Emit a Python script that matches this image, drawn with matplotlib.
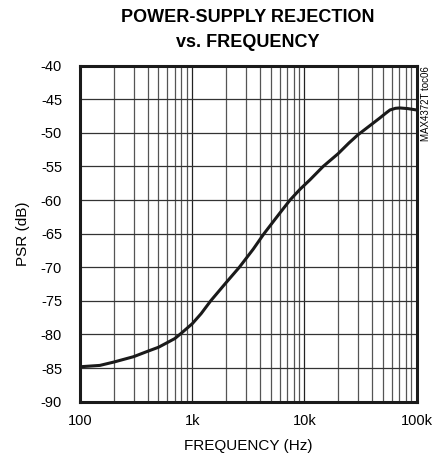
import numpy as np
import matplotlib
matplotlib.use("Agg")
import matplotlib.pyplot as plt
from matplotlib.ticker import FixedLocator, NullFormatter

plt.rcParams['font.family'] = ['Liberation Sans', 'DejaVu Sans']
plt.rcParams['axes.unicode_minus'] = False

# PSR curve (Hz, dB)
freq_hz = [100, 150, 200, 300, 400, 500, 600, 700, 800, 1000, 1200, 1460,
           2000, 2630, 3500, 4365, 6000, 7445, 9140, 11200, 14700, 20000,
           25000, 30000, 40000, 47000, 53000, 58000, 65000, 71000, 84000,
           100000]
psr_db = [-84.8, -84.6, -84.1, -83.3, -82.5, -81.9, -81.2, -80.6, -79.8, -78.4,
          -76.9, -75.0, -72.3, -70.0, -67.3, -65.0, -62.0, -60.0, -58.4, -57.0,
          -55.0, -53.1, -51.5, -50.3, -48.7, -47.8, -47.1, -46.6, -46.35, -46.3,
          -46.4, -46.6]

x_ticks = [100, 1000, 10000, 100000]
x_labels = ["100", "1k", "10k", "100k"]
y_ticks = list(range(-90, -39, 5))

fig = plt.figure(figsize=(4.45, 4.62), dpi=100)
ax = fig.add_axes([0.180, 0.1305, 0.756, 0.7275])

minor = [m * 10 ** d for d in range(2, 5) for m in range(2, 10)]
for f in minor:
    ax.axvline(f, color='#555555', lw=0.9, zorder=1)
for f in x_ticks[1:-1]:
    ax.axvline(f, color='#222222', lw=0.9, zorder=1)
for y in y_ticks[1:-1]:
    ax.axhline(y, color='#333333', lw=0.9, zorder=1)

ax.plot(freq_hz, psr_db, color='#1a1a1a', lw=2.2, zorder=3,
        solid_joinstyle='round')

ax.set_xscale('log')
ax.set_xlim(100, 100000)
ax.set_ylim(-90, -40)
ax.xaxis.set_major_locator(FixedLocator(x_ticks))
ax.set_xticklabels(x_labels)
ax.xaxis.set_minor_formatter(NullFormatter())
ax.set_yticks(y_ticks)
ax.tick_params(which='both', length=0, labelsize=10.5)
ax.tick_params(axis='y', pad=13)
ax.tick_params(axis='x', pad=9)

for s in ax.spines.values():
    s.set_linewidth(2.2)
    s.set_color('#1a1a1a')

ax.set_xlabel("FREQUENCY (Hz)", fontsize=11, labelpad=8)
ax.set_ylabel("PSR (dB)", fontsize=11, labelpad=8)
fig.text(0.557, 0.962, "POWER-SUPPLY REJECTION", ha='center', va='center',
         fontsize=13, fontweight='bold')
fig.text(0.557, 0.908, "vs. FREQUENCY", ha='center', va='center',
         fontsize=13, fontweight='bold')
fig.text(0.958, 0.857, "MAX4372T toc06", rotation=90, ha='center', va='top',
         fontsize=7)

fig.savefig("out.png", dpi=100)
